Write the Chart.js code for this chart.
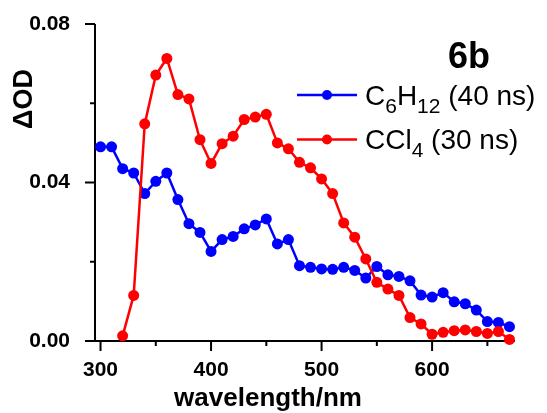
<!DOCTYPE html>
<html>
<head>
<meta charset="utf-8">
<script src="https://cdn.jsdelivr.net/npm/chart.js@4.4.0/dist/chart.umd.min.js"></script>
<style>
  html, body { margin: 0; padding: 0; background: #fff; }
  #wrap { width: 547px; height: 413px; }
</style>
</head>
<body>
<div id="wrap"><canvas id="Chart" width="547" height="413"></canvas></div>
<script>
// C6H12 (40 ns), blue
const blueWavelengths = [300, 310, 320, 330, 340, 350, 360, 370, 380, 390, 400, 410, 420, 430, 440, 450, 460, 470, 480, 490,
  500, 510, 520, 530, 540, 550, 560, 570, 580, 590, 600, 610, 620, 630, 640, 650, 660, 670];
const blueOD = [0.0490, 0.0490, 0.0435, 0.0424, 0.0372, 0.0403, 0.0424, 0.0357, 0.0296, 0.0274, 0.0226, 0.0256, 0.0264, 0.0283, 0.0293, 0.0308, 0.0245, 0.0256, 0.0190, 0.0186,
  0.0182, 0.0181, 0.0186, 0.0178, 0.0159, 0.0188, 0.0167, 0.0163, 0.0152, 0.0116, 0.0111, 0.0122, 0.0099, 0.0094, 0.0078, 0.0049, 0.0047, 0.0036];

// CCl4 (30 ns), red
const redWavelengths = [320, 330, 340, 350, 360, 370, 380, 390, 400, 410, 420, 430, 440, 450, 460, 470, 480, 490,
  500, 510, 520, 530, 540, 550, 560, 570, 580, 590, 600, 610, 620, 630, 640, 650, 660, 670];
const redOD = [0.0013, 0.0115, 0.0548, 0.0671, 0.0713, 0.0622, 0.0611, 0.0508, 0.0448, 0.0498, 0.0517, 0.0559, 0.0565, 0.0572, 0.0500, 0.0485, 0.0451, 0.0437,
  0.0409, 0.0372, 0.0298, 0.0262, 0.0207, 0.0148, 0.0131, 0.0115, 0.0059, 0.0043, 0.0017, 0.0022, 0.0026, 0.0028, 0.0024, 0.0019, 0.0024, 0.0004];

const xTicks = [300, 400, 500, 600];
const xMinorTicks = [350, 450, 550, 650];
const yTicks = [0, 0.04, 0.08];
const yMinorTicks = [0.02, 0.06];

// legend labels, [text, isSubscript]
const blueLabel = [['C', 0], ['6', 1], ['H', 0], ['12', 1], [' (40 ns)', 0]];
const redLabel = [['CCl', 0], ['4', 1], [' (30 ns)', 0]];

const FONT = "'Liberation Sans', Arial, sans-serif";
Chart.defaults.font.family = FONT;
Chart.defaults.color = '#000';

const toXY = (xs, ys) => xs.map((x, i) => ({ x: x, y: ys[i] }));

const decor = {
  id: 'decor',
  beforeDatasetsDraw(chart) {
    const { ctx, chartArea: a, scales: { x, y } } = chart;
    ctx.save();
    ctx.strokeStyle = '#000';
    ctx.lineWidth = 2;
    ctx.beginPath();
    ctx.moveTo(a.left, a.top);
    ctx.lineTo(a.left, a.bottom);
    ctx.lineTo(a.right, a.bottom);
    yTicks.forEach(v => { const p = y.getPixelForValue(v); ctx.moveTo(a.left - 10, p); ctx.lineTo(a.left, p); });
    yMinorTicks.forEach(v => { const p = y.getPixelForValue(v); ctx.moveTo(a.left - 5, p); ctx.lineTo(a.left, p); });
    xTicks.forEach(v => { const p = x.getPixelForValue(v); ctx.moveTo(p, a.bottom); ctx.lineTo(p, a.bottom + 10); });
    xMinorTicks.forEach(v => { const p = x.getPixelForValue(v); ctx.moveTo(p, a.bottom); ctx.lineTo(p, a.bottom + 5); });
    ctx.stroke();
    ctx.restore();
  },
  afterDraw(chart) {
    const ctx = chart.ctx;
    ctx.save();
    ctx.fillStyle = '#000';
    ctx.textBaseline = 'alphabetic';

    // axis titles
    ctx.font = 'bold 26px ' + FONT;
    ctx.textAlign = 'center';
    ctx.fillText('wavelength/nm', 268, 406);
    ctx.save();
    ctx.translate(32, 99);
    ctx.rotate(-Math.PI / 2);
    ctx.font = 'bold 27px ' + FONT;
    ctx.fillText('\u0394OD', 0, 0);
    ctx.restore();

    // sample tag
    ctx.font = 'bold 36px ' + FONT;
    ctx.textAlign = 'left';
    ctx.fillText('6b', 448, 68);

    // legend
    const entries = [
      { parts: blueLabel, color: '#0000ff', lineY: 95, baseY: 105 },
      { parts: redLabel, color: '#ff0000', lineY: 139.5, baseY: 149 }
    ];
    entries.forEach(e => {
      ctx.strokeStyle = e.color;
      ctx.fillStyle = e.color;
      ctx.lineWidth = 2.5;
      ctx.beginPath();
      ctx.moveTo(297, e.lineY);
      ctx.lineTo(357, e.lineY);
      ctx.stroke();
      ctx.beginPath();
      ctx.arc(327, e.lineY, 5, 0, Math.PI * 2);
      ctx.fill();
      ctx.fillStyle = '#000';
      let tx = 365;
      e.parts.forEach(([t, sub]) => {
        ctx.font = (sub ? '21px ' : '28px ') + FONT;
        ctx.fillText(t, tx, e.baseY + (sub ? 8 : 0));
        tx += ctx.measureText(t).width;
      });
    });
    ctx.restore();
  }
};

const ctx = document.getElementById('Chart');
const myChart = new Chart(ctx, {
  type: 'line',
  data: {
    datasets: [
      {
        label: 'C6H12 (40 ns)',
        data: toXY(blueWavelengths, blueOD),
        borderColor: '#0000ff',
        backgroundColor: '#0000ff',
        borderWidth: 2.5,
        pointRadius: 5.5,
        pointBorderWidth: 0,
        order: 1
      },
      {
        label: 'CCl4 (30 ns)',
        data: toXY(redWavelengths, redOD),
        borderColor: '#ff0000',
        backgroundColor: '#ff0000',
        borderWidth: 2.5,
        pointRadius: 5.5,
        pointBorderWidth: 0,
        order: 0
      }
    ]
  },
  options: {
    responsive: false,
    animation: false,
    clip: false,
    layout: { autoPadding: false, padding: { top: 24, right: 32, left: 0, bottom: 0 } },
    plugins: { legend: { display: false }, tooltip: { enabled: false } },
    scales: {
      x: {
        type: 'linear',
        min: 295,
        max: 675,
        grid: { display: false },
        border: { display: false },
        afterBuildTicks: s => { s.ticks = xTicks.map(v => ({ value: v })); },
        afterFit: s => { s.height = 72; },
        ticks: { autoSkip: false, maxRotation: 0, padding: 9, font: { size: 21, weight: 'bold' } }
      },
      y: {
        min: 0,
        max: 0.08,
        grid: { display: false },
        border: { display: false },
        afterBuildTicks: s => { s.ticks = yTicks.map(v => ({ value: v })); },
        afterFit: s => { s.width = 95; s.paddingTop = 0; s.paddingBottom = 0; },
        ticks: { autoSkip: false, padding: 17, font: { size: 21, weight: 'bold' }, callback: v => v.toFixed(2) }
      }
    }
  },
  plugins: [decor]
});
</script>
</body>
</html>
